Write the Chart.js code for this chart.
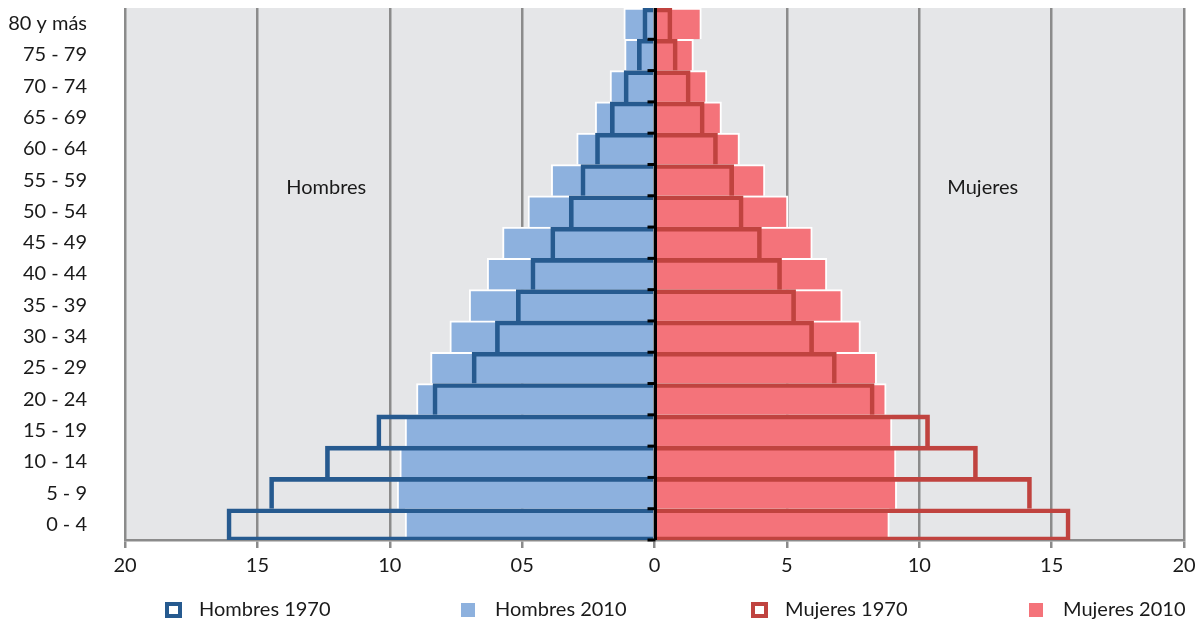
<!DOCTYPE html>
<html>
<head>
<meta charset="utf-8">
<script src="https://cdn.jsdelivr.net/npm/chart.js@4.4.0/dist/chart.umd.min.js"></script>
<style>
html,body{margin:0;padding:0;background:#ffffff;}
#wrap{width:1201px;height:626px;position:relative;}
</style>
</head>
<body>
<div id="wrap"><canvas id="c" width="1201" height="626"></canvas></div>
<script>
// ---- Data (top row first) ----
const ageGroups = ['80 y más','75 - 79','70 - 74','65 - 69','60 - 64','55 - 59','50 - 54','45 - 49','40 - 44','35 - 39','30 - 34','25 - 29','20 - 24','15 - 19','10 - 14','5 - 9','0 - 4'];
const hombres1970 = [-0.44,-0.65,-1.15,-1.67,-2.23,-2.78,-3.22,-3.92,-4.67,-5.22,-6.01,-6.89,-8.37,-10.49,-12.43,-14.54,-16.15];
const hombres2010 = [-1.16,-1.13,-1.68,-2.24,-2.94,-3.90,-4.78,-5.74,-6.32,-7.00,-7.73,-8.46,-8.99,-9.42,-9.62,-9.72,-9.42];
const mujeres1970 = [0.66,0.86,1.35,1.88,2.38,2.99,3.35,4.04,4.80,5.33,6.01,6.87,8.30,10.39,12.20,14.24,15.70];
const mujeres2010 = [1.77,1.47,1.98,2.53,3.21,4.17,5.04,5.96,6.51,7.09,7.78,8.39,8.75,8.97,9.12,9.15,8.87];
const xTickLabels = ['20','15','10','05','0','5','10','15','20'];
const seriesNames = ['Hombres 1970','Hombres 2010','Mujeres 1970','Mujeres 2010'];
const sideLabels = ['Hombres','Mujeres'];

// ---- Styles ----
const FONT = 'Lato, "Open Sans", sans-serif';
const TEXT = '#1a1a1a';
const DARK_BLUE = '#265a8f';
const LIGHT_BLUE = '#8db1de';
const DARK_RED = '#c0433f';
const PINK = '#f4737a';
const GRID = '#8b8b8b';
const PLOT_BG = '#e5e6e8';
const lastIdx = ageGroups.length - 1;

const outlineWidth = (ctx) => ({top: 4, left: 4, right: 4, bottom: ctx.dataIndex === lastIdx ? 3 : 0});
const fillBorder = {top: 2, left: 2, right: 2, bottom: 0};

const plotBg = {
  id: 'plotBg',
  beforeDraw(chart) {
    const {ctx, chartArea: a} = chart;
    ctx.save();
    ctx.fillStyle = PLOT_BG;
    ctx.fillRect(a.left, a.top, a.right - a.left, a.bottom - a.top);
    ctx.restore();
  }
};

const centerAxis = {
  id: 'centerAxis',
  afterDatasetsDraw(chart) {
    const {ctx, chartArea: a, scales: {x, y}} = chart;
    const x0 = Math.round(x.getPixelForValue(0)) + 0.5;
    const rowH = y.getPixelForValue(1) - y.getPixelForValue(0);
    ctx.save();
    ctx.strokeStyle = '#000000';
    ctx.lineWidth = 3;
    ctx.beginPath();
    ctx.moveTo(x0, a.top);
    ctx.lineTo(x0, a.bottom);
    ctx.stroke();
    for (let i = 0; i < ageGroups.length; i++) {
      const yb = y.getPixelForValue(i) + rowH / 2;
      ctx.beginPath();
      ctx.moveTo(x0 - 8, yb);
      ctx.lineTo(x0, yb);
      ctx.stroke();
    }
    // side labels
    ctx.fillStyle = TEXT;
    ctx.font = '20px ' + FONT;
    ctx.textAlign = 'center';
    ctx.textBaseline = 'middle';
    const ly = y.getPixelForValue(5) + rowH * 0.25;
    ctx.fillText(sideLabels[0], x.getPixelForValue(-12.4), ly);
    ctx.fillText(sideLabels[1], x.getPixelForValue(12.4), ly);
    ctx.restore();
  }
};

const customLegend = {
  id: 'customLegend',
  afterDraw(chart) {
    const {ctx} = chart;
    const starts = [165, 461, 751, 1029];
    const cy = 610;
    ctx.save();
    ctx.font = '20px ' + FONT;
    ctx.textBaseline = 'middle';
    ctx.textAlign = 'left';
    const ds = chart.data.datasets;
    seriesNames.forEach((name, i) => {
      const d = ds.find(s => s.label === name);
      const sx = starts[i];
      if (d.backgroundColor === 'rgba(0,0,0,0)') {
        ctx.fillStyle = '#ffffff';
        ctx.fillRect(sx, cy - 8, 17, 16);
        ctx.strokeStyle = d.borderColor;
        ctx.lineWidth = 4;
        ctx.strokeRect(sx + 2, cy - 6, 13, 12);
      } else {
        ctx.fillStyle = d.backgroundColor;
        ctx.fillRect(sx, cy - 7, 14, 14);
      }
      ctx.fillStyle = TEXT;
      ctx.fillText(name, sx + 34, cy);
    });
    ctx.restore();
  }
};

new Chart(document.getElementById('c'), {
  type: 'bar',
  data: {
    labels: ageGroups,
    datasets: [
      {label: seriesNames[0], data: hombres1970, backgroundColor: 'rgba(0,0,0,0)', borderColor: DARK_BLUE, borderWidth: outlineWidth, borderSkipped: 'start', grouped: false},
      {label: seriesNames[2], data: mujeres1970, backgroundColor: 'rgba(0,0,0,0)', borderColor: DARK_RED, borderWidth: outlineWidth, borderSkipped: 'start', grouped: false},
      {label: seriesNames[1], data: hombres2010, backgroundColor: LIGHT_BLUE, borderColor: '#ffffff', borderWidth: fillBorder, borderSkipped: 'start', grouped: false},
      {label: seriesNames[3], data: mujeres2010, backgroundColor: PINK, borderColor: '#ffffff', borderWidth: fillBorder, borderSkipped: 'start', grouped: false}
    ]
  },
  options: {
    indexAxis: 'y',
    responsive: false,
    animation: false,
    devicePixelRatio: 1,
    barPercentage: 1,
    categoryPercentage: 1,
    layout: {padding: {top: 8, right: 17, left: 0, bottom: 0}},
    plugins: {legend: {display: false}, tooltip: {enabled: false}},
    scales: {
      x: {
        min: -20, max: 20,
        ticks: {
          stepSize: 5,
          color: TEXT,
          font: {family: FONT, size: 20},
          padding: 6,
          maxRotation: 0,
          callback: (v, i) => xTickLabels[i]
        },
        grid: {color: GRID, lineWidth: 2.5, tickLength: 8, drawTicks: true},
        border: {display: true, color: GRID, width: 2.5},
        afterFit: (s) => { s.height = 86; s.paddingLeft = 0; s.paddingRight = 0; }
      },
      y: {
        ticks: {color: TEXT, font: {family: FONT, size: 20}, padding: 38, autoSkip: false},
        grid: {display: false, drawTicks: false},
        border: {display: false},
        afterFit: (s) => { s.width = 125; s.paddingTop = 0; s.paddingBottom = 0; }
      }
    }
  },
  plugins: [plotBg, centerAxis, customLegend]
});
</script>
</body>
</html>
